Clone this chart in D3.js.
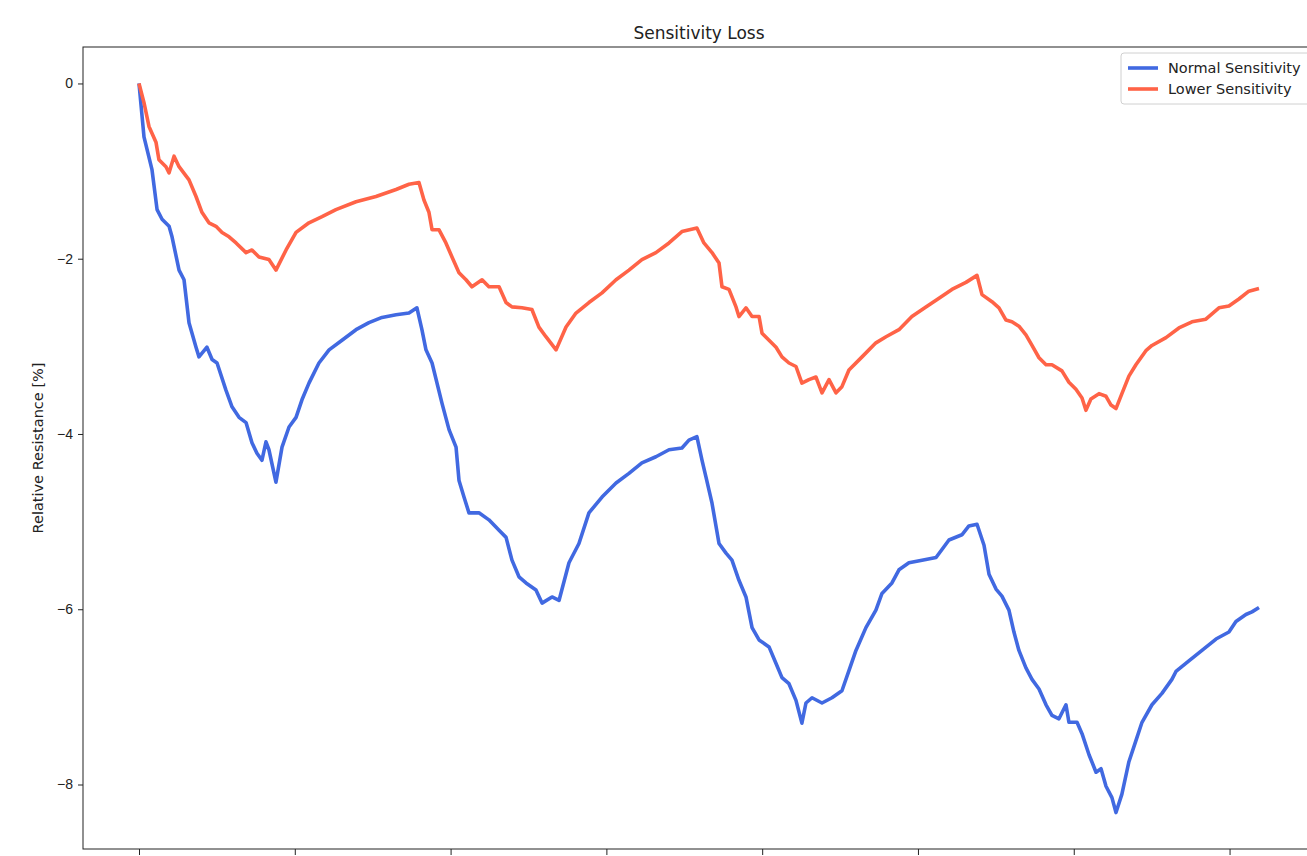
<!DOCTYPE html>
<html>
<head>
<meta charset="utf-8">
<script src="https://cdn.jsdelivr.net/npm/d3@7"></script>
<style>
  body { margin: 0; background: #fff; }
  svg { display: block; font-family: "DejaVu Sans", sans-serif; }
  .axis path, .axis line { stroke: #222; }
  .axis text { fill: #222; font-size: 14px; }
</style>
</head>
<body>
<div id="chart"></div>
<script>
// x in tick units (ticks are at 0..7; their labels fall outside the picture)
const normalX = [0, 0.032, 0.083, 0.116, 0.148, 0.193, 0.212, 0.257, 0.289, 0.321, 0.366, 0.385, 0.436, 0.469, 0.501, 0.558, 0.597, 0.642, 0.687, 0.725, 0.757, 0.789, 0.815, 0.834, 0.879, 0.918, 0.963, 1.008, 1.046, 1.091, 1.155, 1.22, 1.303, 1.393, 1.476, 1.56, 1.65, 1.733, 1.784, 1.816, 1.842, 1.881, 1.945, 1.99, 2.035, 2.054, 2.086, 2.118, 2.182, 2.246, 2.311, 2.356, 2.394, 2.439, 2.484, 2.548, 2.587, 2.651, 2.696, 2.76, 2.824, 2.888, 2.972, 3.062, 3.145, 3.228, 3.318, 3.402, 3.485, 3.53, 3.581, 3.614, 3.639, 3.678, 3.723, 3.768, 3.806, 3.851, 3.896, 3.935, 3.98, 4.044, 4.089, 4.127, 4.172, 4.217, 4.255, 4.281, 4.32, 4.384, 4.448, 4.512, 4.557, 4.602, 4.666, 4.73, 4.769, 4.833, 4.878, 4.942, 5.026, 5.116, 5.199, 5.282, 5.327, 5.379, 5.424, 5.456, 5.501, 5.539, 5.584, 5.616, 5.648, 5.693, 5.732, 5.777, 5.822, 5.86, 5.905, 5.95, 5.969, 6.021, 6.053, 6.098, 6.143, 6.175, 6.207, 6.245, 6.271, 6.309, 6.354, 6.399, 6.438, 6.502, 6.566, 6.63, 6.656, 6.739, 6.823, 6.913, 6.996, 7.041, 7.105, 7.144, 7.189];
const normalY = [0, -0.61, -0.98, -1.44, -1.55, -1.63, -1.75, -2.13, -2.24, -2.73, -3.01, -3.12, -3.01, -3.15, -3.19, -3.5, -3.69, -3.81, -3.87, -4.1, -4.22, -4.3, -4.09, -4.18, -4.55, -4.15, -3.92, -3.81, -3.61, -3.42, -3.19, -3.04, -2.93, -2.81, -2.73, -2.67, -2.64, -2.62, -2.56, -2.81, -3.04, -3.19, -3.65, -3.95, -4.15, -4.53, -4.72, -4.9, -4.9, -4.98, -5.1, -5.18, -5.44, -5.63, -5.7, -5.78, -5.93, -5.86, -5.9, -5.47, -5.25, -4.9, -4.72, -4.56, -4.45, -4.33, -4.26, -4.18, -4.16, -4.07, -4.03, -4.3, -4.49, -4.79, -5.25, -5.36, -5.44, -5.67, -5.86, -6.21, -6.35, -6.43, -6.62, -6.78, -6.85, -7.04, -7.3, -7.07, -7.01, -7.07, -7.01, -6.93, -6.7, -6.47, -6.21, -6.01, -5.82, -5.7, -5.55, -5.47, -5.44, -5.41, -5.21, -5.15, -5.05, -5.03, -5.27, -5.6, -5.77, -5.85, -6.01, -6.26, -6.47, -6.67, -6.8, -6.91, -7.09, -7.21, -7.25, -7.09, -7.29, -7.29, -7.42, -7.66, -7.86, -7.82, -8.02, -8.15, -8.32, -8.11, -7.74, -7.5, -7.29, -7.09, -6.96, -6.8, -6.71, -6.59, -6.47, -6.34, -6.26, -6.14, -6.06, -6.03, -5.98];

const lowerX = [0, 0.032, 0.064, 0.109, 0.128, 0.173, 0.193, 0.225, 0.257, 0.321, 0.366, 0.404, 0.449, 0.494, 0.533, 0.578, 0.623, 0.687, 0.725, 0.77, 0.834, 0.879, 0.944, 1.008, 1.091, 1.175, 1.264, 1.393, 1.521, 1.65, 1.733, 1.797, 1.829, 1.861, 1.881, 1.926, 1.97, 2.009, 2.054, 2.099, 2.137, 2.202, 2.246, 2.311, 2.356, 2.394, 2.458, 2.522, 2.567, 2.612, 2.677, 2.741, 2.805, 2.888, 2.972, 3.062, 3.145, 3.228, 3.318, 3.402, 3.485, 3.581, 3.626, 3.678, 3.723, 3.742, 3.787, 3.832, 3.851, 3.896, 3.935, 3.98, 3.999, 4.044, 4.089, 4.127, 4.172, 4.217, 4.255, 4.3, 4.345, 4.384, 4.429, 4.474, 4.512, 4.557, 4.641, 4.73, 4.795, 4.878, 4.961, 5.051, 5.135, 5.218, 5.308, 5.379, 5.411, 5.475, 5.52, 5.565, 5.603, 5.648, 5.693, 5.732, 5.777, 5.822, 5.86, 5.924, 5.969, 6.014, 6.053, 6.078, 6.11, 6.162, 6.207, 6.239, 6.271, 6.309, 6.354, 6.399, 6.463, 6.502, 6.592, 6.675, 6.759, 6.848, 6.932, 6.996, 7.06, 7.124, 7.189];
const lowerY = [0, -0.22, -0.49, -0.67, -0.87, -0.95, -1.02, -0.83, -0.95, -1.1, -1.29, -1.47, -1.59, -1.63, -1.7, -1.75, -1.82, -1.93, -1.9, -1.98, -2.01, -2.13, -1.9, -1.7, -1.59, -1.52, -1.44, -1.35, -1.29, -1.21, -1.15, -1.13, -1.33, -1.47, -1.67, -1.67, -1.82, -1.98, -2.16, -2.24, -2.32, -2.24, -2.32, -2.32, -2.5, -2.55, -2.56, -2.58, -2.78, -2.89, -3.04, -2.78, -2.62, -2.5, -2.39, -2.24, -2.13, -2.01, -1.93, -1.82, -1.69, -1.65, -1.82, -1.93, -2.05, -2.32, -2.35, -2.55, -2.66, -2.56, -2.66, -2.66, -2.85, -2.93, -3.01, -3.12, -3.19, -3.23, -3.42, -3.38, -3.35, -3.53, -3.38, -3.53, -3.46, -3.27, -3.12, -2.96, -2.89, -2.81, -2.66, -2.55, -2.45, -2.35, -2.27, -2.19, -2.41, -2.49, -2.56, -2.7, -2.72, -2.77, -2.87, -2.99, -3.13, -3.21, -3.21, -3.28, -3.41, -3.49, -3.59, -3.73, -3.6, -3.54, -3.57, -3.67, -3.71, -3.54, -3.34, -3.21, -3.05, -2.99, -2.9, -2.79, -2.72, -2.69, -2.56, -2.54, -2.46, -2.37, -2.34];

const seriesNames = ["Normal Sensitivity", "Lower Sensitivity"];
const seriesColors = ["#4169e1", "#ff6347"];
const xTicks = [0, 1, 2, 3, 4, 5, 6, 7];
const yTicks = [0, -2, -4, -6, -8];

const W = 1307, H = 856;
const margin = { top: 47, left: 83 };
const plotW = 1232, plotH = 802;

const series = [
  normalX.map((x, i) => [x, normalY[i]]),
  lowerX.map((x, i) => [x, lowerY[i]])
];

const svg = d3.select("#chart").append("svg").attr("width", W).attr("height", H);
const g = svg.append("g").attr("transform", `translate(${margin.left},${margin.top})`);

// 5% padding each side as matplotlib does
const xPad = 0.05 * 7.189;
const x = d3.scaleLinear().domain([-xPad, 7.189 + xPad]).range([0, plotW]);
const yPad = 0.05 * 8.32;
const y = d3.scaleLinear().domain([-8.32 - yPad, 0 + yPad]).range([plotH, 0]);

const line = d3.line().x(d => x(d[0])).y(d => y(d[1]));

series.forEach((s, i) => {
  g.append("path")
    .datum(s)
    .attr("fill", "none")
    .attr("stroke", seriesColors[i])
    .attr("stroke-width", 3.6)
    .attr("stroke-linejoin", "round")
    .attr("d", line);
});

g.append("g")
  .attr("class", "axis")
  .call(d3.axisLeft(y).tickValues(yTicks).tickSize(5).tickPadding(5)
    .tickFormat(d => d === 0 ? "0" : "\u2212" + Math.abs(d)))
  .call(a => a.select(".domain").remove());

g.append("g")
  .attr("class", "axis")
  .attr("transform", `translate(0,${plotH})`)
  .call(d3.axisBottom(x).tickValues(xTicks).tickSize(6).tickFormat(""))
  .call(a => a.select(".domain").remove());

g.append("rect")
  .attr("width", plotW)
  .attr("height", plotH)
  .attr("fill", "none")
  .attr("stroke", "#222")
  .attr("stroke-width", 1);

svg.append("text")
  .attr("x", margin.left + plotW / 2)
  .attr("y", 39)
  .attr("text-anchor", "middle")
  .attr("font-size", 17)
  .attr("fill", "#222")
  .text("Sensitivity Loss");

svg.append("text")
  .attr("transform", `translate(43,${margin.top + plotH / 2}) rotate(-90)`)
  .attr("text-anchor", "middle")
  .attr("font-size", 14.5)
  .attr("fill", "#222")
  .text("Relative Resistance [%]");

// legend
const lg = svg.append("g").attr("transform", "translate(1121,53)");
lg.append("rect")
  .attr("width", 200)
  .attr("height", 51)
  .attr("rx", 3)
  .attr("fill", "#fff")
  .attr("fill-opacity", 0.8)
  .attr("stroke", "#d0d0d0");
seriesNames.forEach((name, i) => {
  const yy = 15 + i * 21;
  lg.append("line")
    .attr("x1", 7).attr("x2", 37)
    .attr("y1", yy).attr("y2", yy)
    .attr("stroke", seriesColors[i])
    .attr("stroke-width", 3.6);
  lg.append("text")
    .attr("x", 47)
    .attr("y", yy + 5)
    .attr("font-size", 14.5)
    .attr("fill", "#222")
    .text(name);
});
</script>
</body>
</html>
